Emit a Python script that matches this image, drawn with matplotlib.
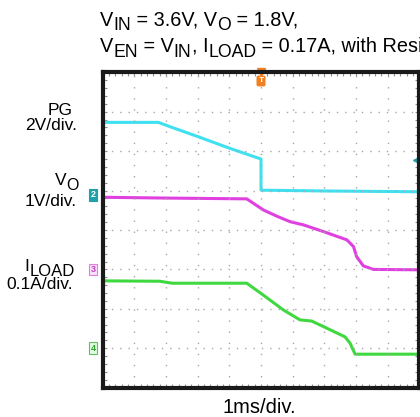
import numpy as np
import matplotlib
matplotlib.use("Agg")
import matplotlib.pyplot as plt

plt.rcParams['font.family'] = ['Liberation Sans', 'DejaVu Sans']

# trace data, in scope divisions (x: 0..10, y: 0..8)
pg_t = [0.0, 1.76, 2.13, 2.97, 4.02, 5.0, 5.0, 7.0, 9.96]
pg_v = [6.73, 6.73, 6.62, 6.38, 6.07, 5.80, 5.01, 4.99, 4.97]

vo_t = [0.0, 2.0, 4.55, 5.07, 5.5, 5.92, 6.34, 6.97, 7.71, 7.92, 8.02, 8.23, 8.55, 9.96]
vo_v = [4.83, 4.81, 4.79, 4.51, 4.35, 4.21, 4.13, 3.96, 3.75, 3.58, 3.32, 3.09, 3.00, 2.99]

il_t = [0.0, 1.8, 2.2, 4.55, 5.07, 5.71, 6.23, 6.60, 6.97, 7.65, 7.81, 7.97, 9.96]
il_v = [2.71, 2.70, 2.65, 2.65, 2.35, 1.97, 1.72, 1.69, 1.55, 1.29, 1.13, 0.85, 0.85]

# channel ground markers
markers = ['2', '3', '4']
marker_y = [4.89, 3.0, 1.0]

trig_t = 5.0
trig_level = 5.77

fig = plt.figure(figsize=(4.2, 4.17), dpi=100)
ax = fig.add_axes([0.2443, 0.0703, 0.7543, 0.7563])

ax.plot(pg_t, pg_v, color='#40e0f0', lw=2.2)
ax.plot(vo_t, vo_v, color='#e040e0', lw=2.2)
ax.plot(il_t, il_v, color='#40d840', lw=2.2)

ax.set_xlim(0, 10)
ax.set_ylim(0, 8)

# dotted graticule
for x in range(1, 10):
    ax.axvline(x, color='#a8a8a8', lw=1.0, ls=(0, (1, 7)))
for y in range(1, 8):
    ax.axhline(y, color='#a8a8a8', lw=1.0, ls=(0, (1, 5)))

ax.set_xticks(np.arange(0, 10.01, 0.2), minor=True)
ax.set_yticks(np.arange(0, 8.01, 0.2), minor=True)
ax.set_xticks([])
ax.set_yticks([])
ax.tick_params(which='minor', direction='in', length=3, width=0.8, color='#909090',
               top=True, bottom=True, left=True, right=True,
               labelbottom=False, labelleft=False)
for s in ax.spines.values():
    s.set_linewidth(3)
    s.set_color('#1a1a1a')

# trigger position and level
ax.plot([trig_t], [8.0], marker='v', color='#f08020', ms=6, clip_on=False)
ax.text(trig_t, 7.78, 'T', color='white', fontsize=6, fontweight='bold', ha='center', va='center',
        bbox=dict(boxstyle='round,pad=0.15', fc='#f08020', ec='#f08020'))
ax.plot([9.93], [trig_level], marker='<', color='#20a0b0', ms=6, clip_on=False)

# channel markers
box_styles = [
    dict(fc='#20a0a8', ec='#20a0a8', tc='white'),
    dict(fc='#fbe0fb', ec='#e080e0', tc='#c040c0'),
    dict(fc='#e0fbe0', ec='#60c060', tc='#30a030'),
]
for m, y, st in zip(markers, marker_y, box_styles):
    ax.text(-0.3, y, m, color=st['tc'], fontsize=6.5, fontweight='bold', ha='center', va='center',
            clip_on=False,
            bbox=dict(boxstyle='square,pad=0.15', fc=st['fc'], ec=st['ec'], lw=0.8))


renderer = fig.canvas.get_renderer()


def rich(x, y, parts, size, sub_size, sub_drop=5, ha='left'):
    # parts: list of (text, is_subscript); x, y in pixels from top-left
    widths = []
    for txt, sub in parts:
        t = fig.text(0, 0, txt, fontsize=sub_size if sub else size)
        widths.append(t.get_window_extent(renderer).width)
        t.remove()
    total = sum(widths)
    px = x - total if ha == 'right' else x
    for (txt, sub), w in zip(parts, widths):
        yy = y + (sub_drop if sub else 0)
        fig.text(px / 420, 1 - yy / 417, txt, fontsize=sub_size if sub else size,
                 ha='left', va='baseline')
        px += w


# titles
rich(100, 25.5, [('V', 0), ('IN', 1), (' = 3.6V, V', 0), ('O', 1), (' = 1.8V,', 0)], 14.3, 12.7)
rich(100, 52, [('V', 0), ('EN', 1), (' = V', 0), ('IN', 1), (', I', 0), ('LOAD', 1),
               (' = 0.17A, with Resistive Load', 0)], 14.3, 12.7)

# channel labels
rich(73, 115, [('PG', 0)], 12.5, 11, ha='right')
rich(77, 130, [('2V/div.', 0)], 12.5, 11, ha='right')
rich(79, 185, [('V', 0), ('O', 1)], 12.5, 11.5, sub_drop=5, ha='right')
rich(77, 206, [('1V/div.', 0)], 12.5, 11, ha='right')
rich(75, 271, [('I', 0), ('LOAD', 1)], 12.5, 12, sub_drop=4.5, ha='right')
rich(73, 289, [('0.1A/div.', 0)], 12.5, 11, ha='right')

fig.text(259 / 420, 1 - 413 / 417, '1ms/div.', fontsize=14.5, ha='center', va='baseline')

fig.savefig('out.png', dpi=100)
